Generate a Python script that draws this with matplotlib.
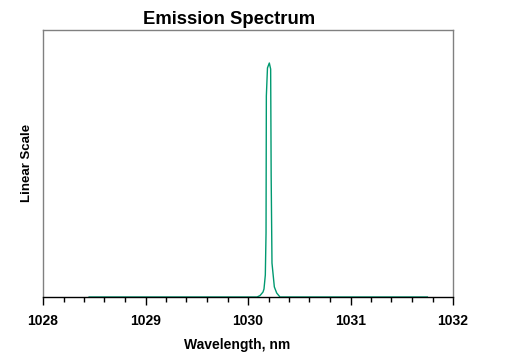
import matplotlib
matplotlib.use("Agg")
import matplotlib.pyplot as plt
from matplotlib.ticker import MultipleLocator

wavelength = [1028.45, 1030.088, 1030.117, 1030.146, 1030.156, 1030.169, 1030.176,
              1030.179, 1030.190, 1030.208, 1030.221, 1030.226, 1030.234, 1030.257,
              1030.280, 1030.312, 1031.75]
intensity = [0, 0, 0.006, 0.021, 0.034, 0.094, 0.274,
             0.859, 0.979, 1.0, 0.974, 0.517, 0.145, 0.043,
             0.017, 0, 0]
xticks = [1028, 1029, 1030, 1031, 1032]

plt.rcParams['font.family'] = ['Liberation Sans', 'DejaVu Sans']
fig = plt.figure(figsize=(5.22, 3.62), dpi=100)
ax = fig.add_axes([43/522, 1-297/362, (453-43)/522, (297-30)/362])
ax.plot(wavelength, intensity, color='#009970', lw=1.0)
ax.set_xlim(1028, 1032)
ax.set_ylim(0, 1.141)
ax.set_xticks(xticks)
ax.set_xticklabels([str(t) for t in xticks], fontweight='bold', fontsize=10)
ax.xaxis.set_minor_locator(MultipleLocator(0.2))
ax.tick_params(axis='x', which='major', direction='out', length=6, width=1, pad=6, color='black')
ax.tick_params(axis='x', which='minor', direction='out', length=3.5, width=1, color='black')
ax.set_yticks([])
for s in ['left', 'top', 'right']:
    ax.spines[s].set_color('#808080')
    ax.spines[s].set_linewidth(1)
ax.spines['bottom'].set_color('black')
ax.spines['bottom'].set_linewidth(1)
fig.text(229/522, 1-20/362, 'Emission Spectrum', ha='center', va='center',
         fontsize=13.3, fontweight='bold')
fig.text(237/522, 1-345/362, 'Wavelength, nm', ha='center', va='center',
         fontsize=10, fontweight='bold')
fig.text(27/522, 1-163/362, 'Linear Scale', ha='center', va='center',
         rotation=90, fontsize=9.5, fontweight='bold')
fig.savefig('out.png', dpi=100)
